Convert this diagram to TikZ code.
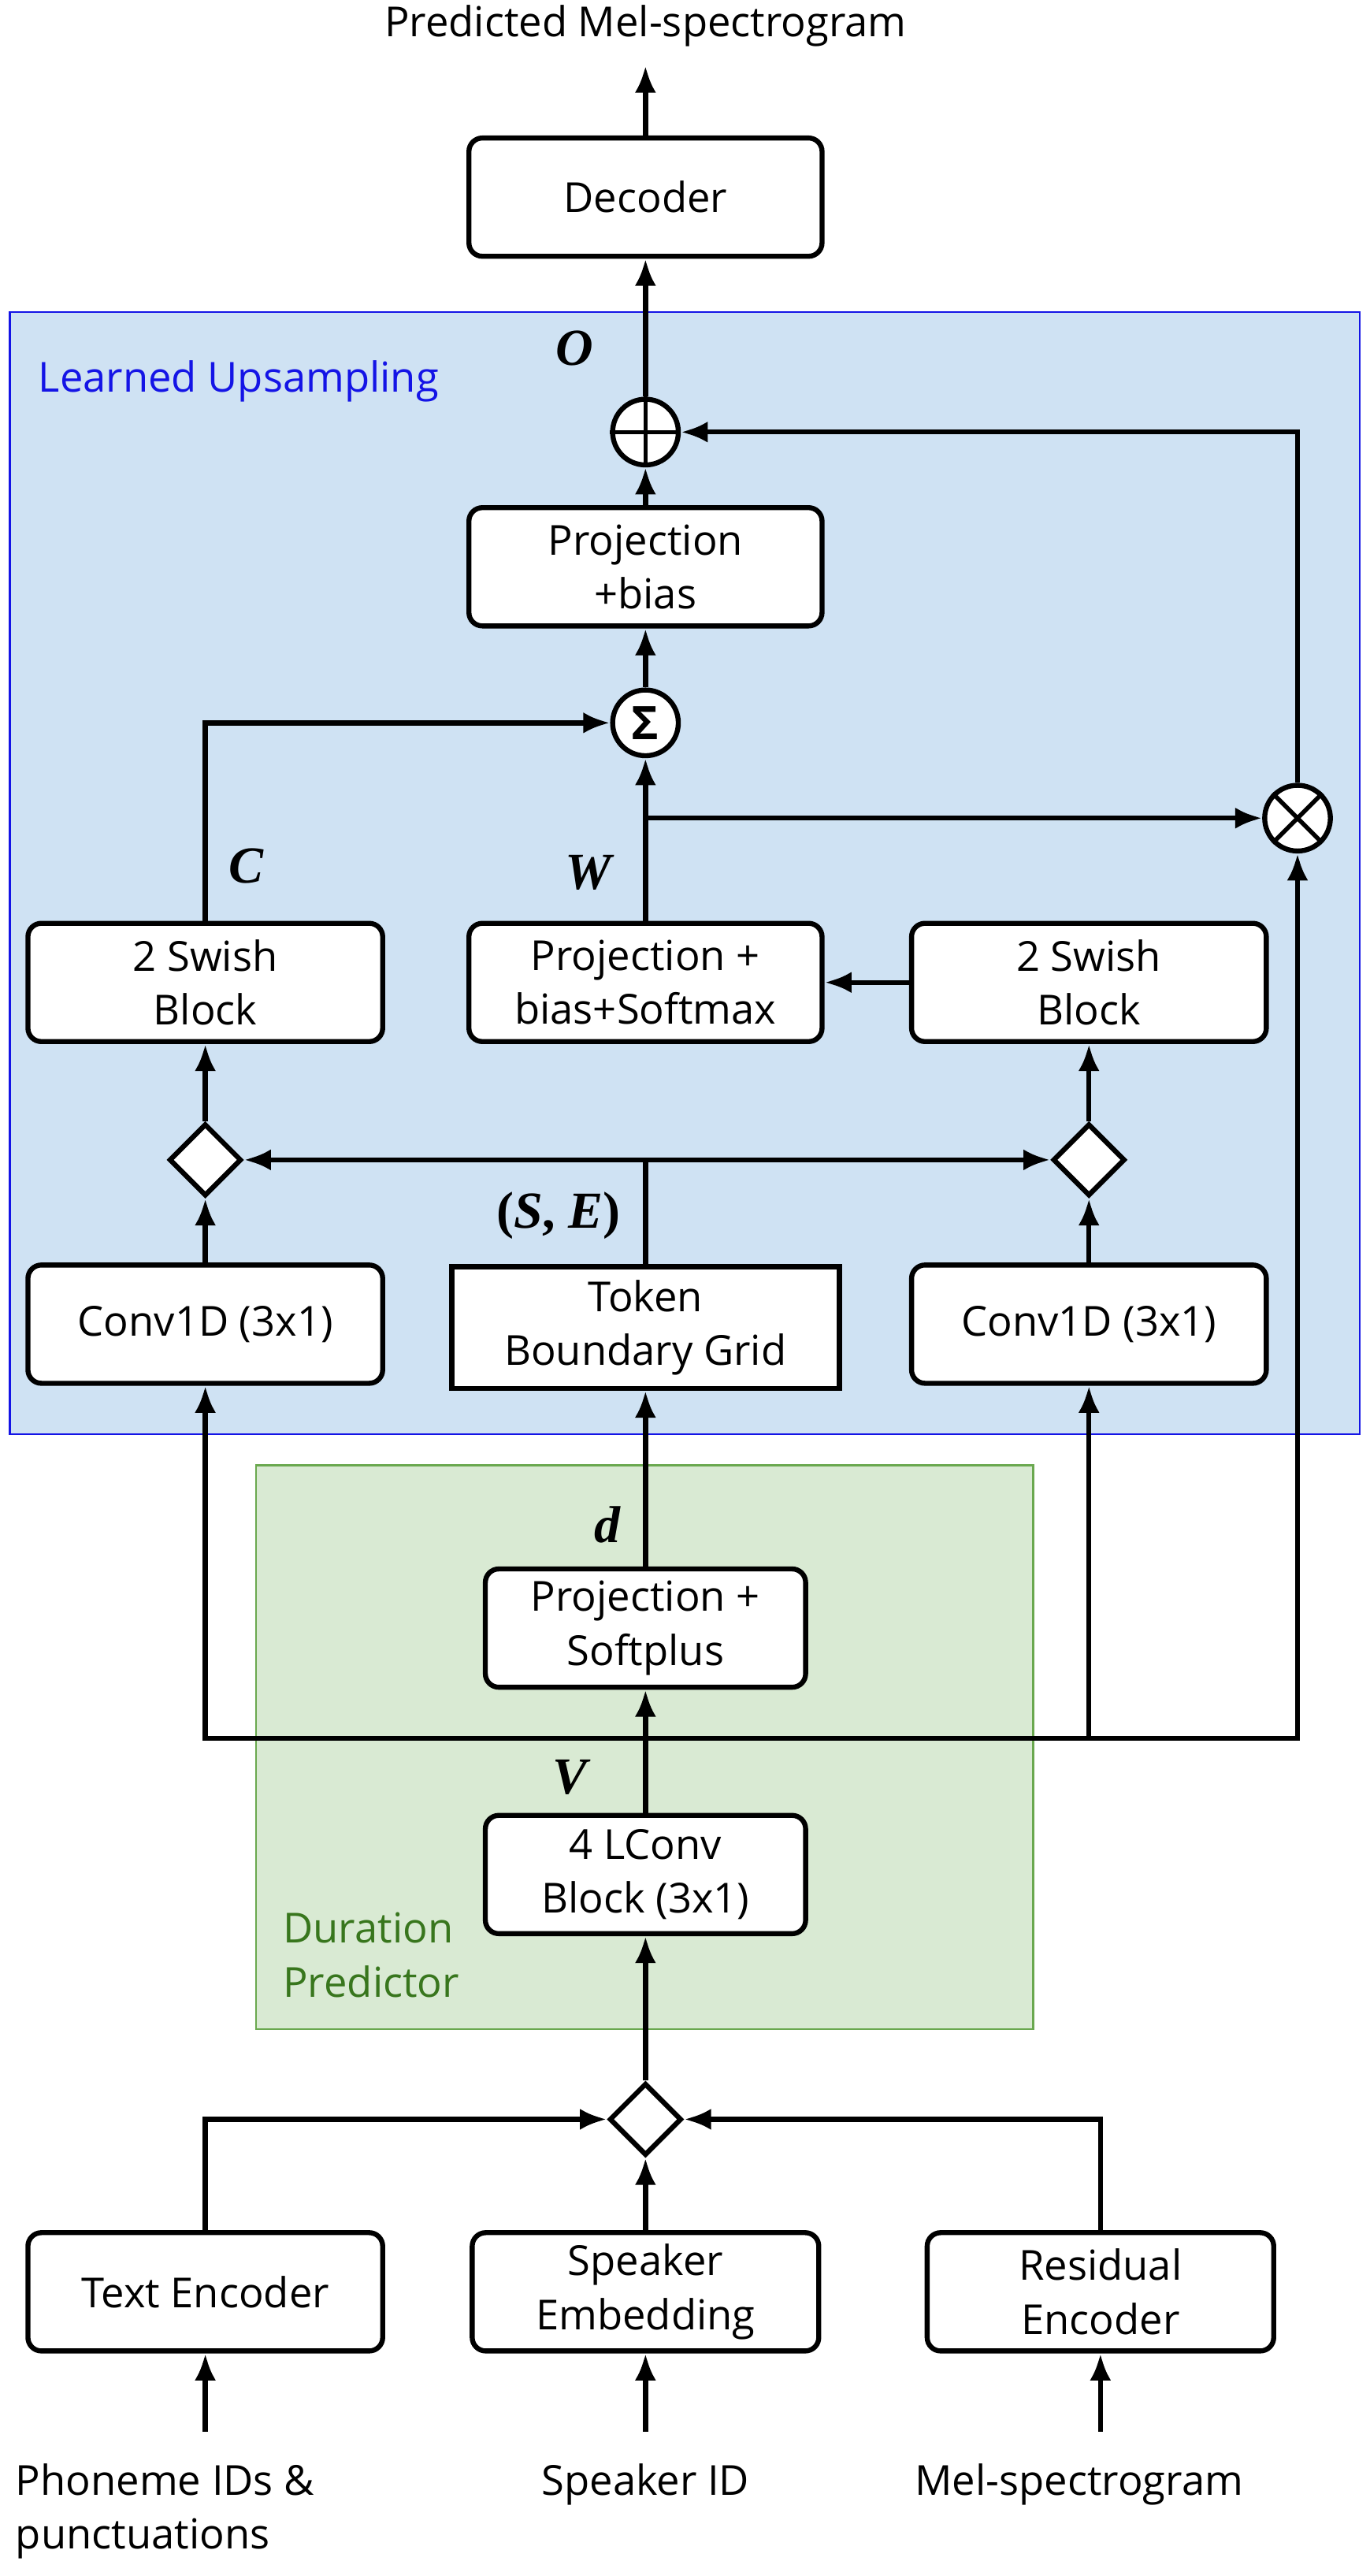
\documentclass[tikz,border=0pt]{standalone}
\usepackage{fontspec}
\setmainfont{Open Sans}
\newfontfamily\mathlbl{Liberation Serif}
\usetikzlibrary{arrows.meta,shapes.geometric}
\begin{document}
\begin{tikzpicture}[x=0.03cm,y=-0.03cm,
 line width=2.6pt,
 every node/.style={font=\fontsize{21.5}{28}\selectfont},
 box/.style={draw,fill=white,rounded corners=7pt,align=center,inner sep=0pt},
 arr/.style={-{Latex[length=14pt,width=11pt]}},
 lbl/.style={font=\mathlbl\bfseries\itshape\fontsize{27}{30}\selectfont},
 circ/.style={draw,circle,minimum size=40*0.03cm,inner sep=0pt,fill=white},
 dia/.style={draw,diamond,minimum size=44*0.03cm,inner sep=0pt,fill=white}]
\useasboundingbox (0,0) rectangle (834,1568);
\fill[white] (0,0) rectangle (834,1568);
% regions
\draw[line width=1pt,draw={rgb,255:red,20;green,20;blue,230},fill={rgb,255:red,207;green,226;blue,243}] (6,190) rectangle (828,873);
\draw[line width=1pt,draw={rgb,255:red,106;green,168;blue,79},fill={rgb,255:red,217;green,234;blue,211}] (156,892) rectangle (629,1235);
\node[anchor=west,text={rgb,255:red,20;green,20;blue,230}] at (18,232) {Learned Upsampling};
\node[align=left,text={rgb,255:red,56;green,118;blue,29}] (dp) at (226,1190) {Duration\\Predictor};
% nodes
\node (title) at (393,16) {Predicted Mel-spectrogram};
\node[box,minimum width=215*0.03cm,minimum height=72*0.03cm] (dec) at (393,120) {Decoder};
\node[circ] (oplus) at (393,263) {};
\draw[line width=2.2pt] (oplus.north)--(oplus.south) (oplus.west)--(oplus.east);
\node[lbl] (O) at (350,212) {O};
\node[box,minimum width=215*0.03cm,minimum height=72*0.03cm] (proj) at (393,345) {Projection\\+bias};
\node[circ] (sig) at (393,440) {\fontsize{24}{26}\selectfont\textbf{Σ}};
\node[circ] (otimes) at (790,498) {};
\draw[line width=2.2pt] (otimes.45)--(otimes.225) (otimes.135)--(otimes.315);
\node[lbl] (C) at (150,527) {C};
\node[lbl] (W) at (358,531) {W};
\node[box,minimum width=216*0.03cm,minimum height=72*0.03cm] (swl) at (125,598) {2 Swish\\Block};
\node[box,minimum width=215*0.03cm,minimum height=72*0.03cm] (pbs) at (393,598) {Projection +\\bias+Softmax};
\node[box,minimum width=216*0.03cm,minimum height=72*0.03cm] (swr) at (663,598) {2 Swish\\Block};
\node[dia] (dl) at (125,706) {};
\node[dia] (dr) at (663,706) {};
\node[font=\mathlbl\bfseries\fontsize{27}{30}\selectfont] (SE) at (340,740) {(\textit{S}, \textit{E})};
\node[box,minimum width=216*0.03cm,minimum height=72*0.03cm] (cl) at (125,806) {Conv1D (3x1)};
\node[draw,fill=white,align=center,minimum width=236*0.03cm,minimum height=74*0.03cm] (tbg) at (393,808) {Token\\Boundary Grid};
\node[box,minimum width=216*0.03cm,minimum height=72*0.03cm] (cr) at (663,806) {Conv1D (3x1)};
\node[lbl] (d) at (370,928) {d};
\node[box,minimum width=195*0.03cm,minimum height=72*0.03cm] (psp) at (393,991) {Projection +\\Softplus};
\node[lbl] (V) at (347,1082) {V};
\node[box,minimum width=195*0.03cm,minimum height=72*0.03cm] (lc) at (393,1141) {4 LConv\\Block (3x1)};
\node[dia] (db) at (393,1290) {};
\node[box,minimum width=216*0.03cm,minimum height=72*0.03cm] (te) at (125,1395) {Text Encoder};
\node[box,minimum width=211*0.03cm,minimum height=72*0.03cm] (spe) at (393,1395) {Speaker\\Embedding};
\node[box,minimum width=211*0.03cm,minimum height=72*0.03cm] (re) at (670,1395) {Residual\\Encoder};
\node[align=left,anchor=north west,inner sep=0pt] (ph) at (8,1498) {Phoneme IDs \&\\punctuations};
\node[anchor=north,inner sep=0pt] (sid) at (393,1498) {Speaker ID};
\node[anchor=north,inner sep=0pt] (mel) at (657,1498) {Mel-spectrogram};
\coordinate (pin1) at (125,1480); \coordinate (pin2) at (393,1480); \coordinate (pin3) at (670,1480);
\coordinate (tt) at (393,40);
\coordinate (jV) at (393,1058);
\coordinate (jW) at (393,498);
\coordinate (jSE) at (393,706);
% connectors
\draw[arr] (dec.north) -- (tt);
\draw[arr] (oplus.north) -- (dec.south);
\draw[arr] (proj.north) -- (oplus.south);
\draw[arr] (sig.north) -- (proj.south);
\draw[arr] (otimes.north) |- (oplus.east);
\draw[arr] (swl.north) |- (sig.west);
\draw[arr] (pbs.north) -- (sig.south);
\draw[arr] (jW) -- (otimes.west);
\draw[arr] (swr.west) -- (pbs.east);
\draw[arr] (dl.north) -- (swl.south);
\draw[arr] (dr.north) -- (swr.south);
\draw (tbg.north) -- (jSE);
\draw[arr] (jSE) -- (dl.east);
\draw[arr] (jSE) -- (dr.west);
\draw[arr] (cl.north) -- (dl.south);
\draw[arr] (cr.north) -- (dr.south);
\draw[arr] (psp.north) -- (tbg.south);
\draw[arr] (lc.north) -- (psp.south);
\draw[arr] (jV) -| (cl.south);
\draw[arr] (jV) -| (cr.south);
\draw[arr] (jV) -| (otimes.south);
\draw[arr] (db.north) -- (lc.south);
\draw[arr] (te.north) |- (db.west);
\draw[arr] (re.north) |- (db.east);
\draw[arr] (spe.north) -- (db.south);
\draw[arr] (pin1) -- (te.south);
\draw[arr] (pin2) -- (spe.south);
\draw[arr] (pin3) -- (re.south);
\end{tikzpicture}
\end{document}
